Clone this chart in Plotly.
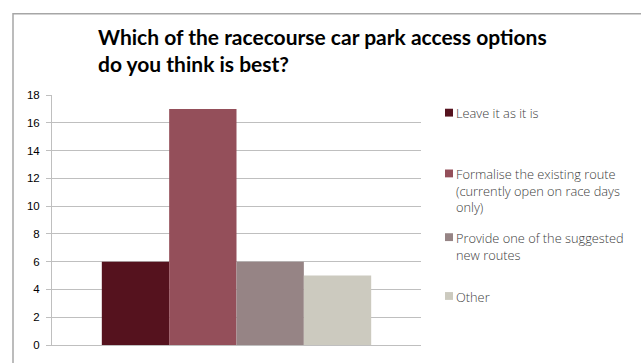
import plotly.graph_objects as go

categories = [
    "Leave it as it is",
    "Formalise the existing route<br>(currently open on race days<br>only)",
    "Provide one of the suggested<br>new routes",
    "Other",
]
values = [6, 17, 6, 5]
colors = ["#55121E", "#944F5A", "#968485", "#CCCABF"]
y_ticks = [0, 2, 4, 6, 8, 10, 12, 14, 16, 18]
title_text = "Which of the racecourse car park access options<br>do you think is best?"

# plot area in pixels
W, H = 641, 363
L, R, T, B = 52, 421, 95, 350
pw, ph = R - L, B - T

def px_x(x):
    return (x - L) / pw

def px_y(y):
    return (B - y) / ph

legend_first_line = [113, 175, 240, 300]
line_h = 17

fig = go.Figure()
for name, v, c in zip(categories, values, colors):
    fig.add_trace(go.Bar(
        x=[""], y=[v], name=name.replace("<br>", " "),
        marker=dict(color=c, line=dict(width=0)), showlegend=False,
    ))

shapes = [dict(
    type="rect", xref="paper", yref="paper",
    x0=px_x(13), x1=px_x(700), y0=px_y(420), y1=px_y(12),
    line=dict(color="#A6A6A6", width=1.5), fillcolor="rgba(0,0,0,0)",
    layer="below",
)]
annotations = []
for name, c, y0 in zip(categories, colors, legend_first_line):
    shapes.append(dict(
        type="rect", xref="paper", yref="paper",
        x0=px_x(445), x1=px_x(453), y0=px_y(y0 + 4), y1=px_y(y0 - 4),
        line=dict(width=0), fillcolor=c,
    ))
    annotations.append(dict(
        xref="paper", yref="paper", x=px_x(455), xanchor="left",
        y=px_y(y0 - line_h / 2 - 1), yanchor="top", text=name, showarrow=False,
        align="left", font=dict(family="Open Sans", size=12.8, color="#404040", weight=300),
        borderpad=0,
    ))

fig.update_layout(
    width=W, height=H,
    margin=dict(l=L, r=W - R, t=T, b=H - B, pad=0),
    paper_bgcolor="white", plot_bgcolor="white",
    barmode="group", bargap=0.27, bargroupgap=0,
    showlegend=False,
    title=dict(
        text=title_text, xref="container", yref="container",
        x=98 / W, xanchor="left", y=1 - 45 / H, yanchor="top",
        font=dict(family="Lato", size=21, color="#000000", weight="bold"),
    ),
    yaxis=dict(
        range=[0, 18], tickvals=y_ticks, showgrid=True, gridcolor="#BFBFBF",
        gridwidth=1, showline=True, linecolor="#BFBFBF", linewidth=1,
        ticks="outside", ticklen=5, tickcolor="#BFBFBF",
        tickfont=dict(family="Liberation Sans", size=11.5, color="#000000"),
        ticklabelstandoff=4, zeroline=False,
    ),
    xaxis=dict(
        showticklabels=False, showline=True, linecolor="#BFBFBF", linewidth=1,
        showgrid=False, zeroline=False,
    ),
    shapes=shapes,
    annotations=annotations,
)

fig.write_html("out.html")
